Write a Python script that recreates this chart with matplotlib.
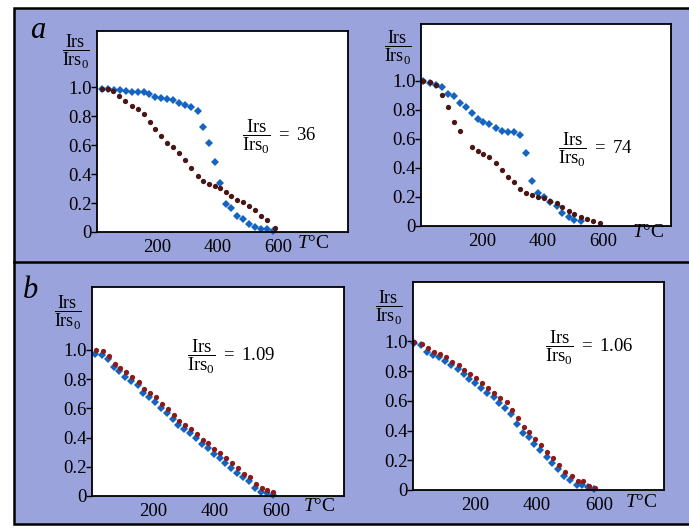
import matplotlib
matplotlib.use("Agg")
import matplotlib.pyplot as plt
from matplotlib.patches import Rectangle
from matplotlib.lines import Line2D

plt.rcParams['font.family'] = ['Liberation Serif', 'DejaVu Serif']
plt.rcParams['mathtext.fontset'] = 'custom'
plt.rcParams['mathtext.rm'] = 'Liberation Serif'
plt.rcParams['mathtext.it'] = 'Liberation Serif:italic'

# panel a, left  (Irs/Irs0 = 36)
t_a1_blue = [17, 35, 55, 75, 96, 116, 136, 154, 172, 193, 212, 231, 251, 272, 292,
             312, 334, 349, 371, 389, 408, 425, 444, 463, 482, 502, 522, 542, 562, 582]
y_a1_blue = [0.99, 0.988, 0.984, 0.979, 0.972, 0.970, 0.968, 0.965, 0.956, 0.933, 0.926,
             0.919, 0.915, 0.892, 0.876, 0.864, 0.839, 0.724, 0.615, 0.484, 0.339, 0.194,
             0.166, 0.113, 0.092, 0.058, 0.035, 0.021, 0.021, 0.005]
t_a1_red = [17, 35, 53, 72, 94, 116, 136, 154, 174, 193, 213, 231, 251, 272, 292,
            312, 334, 349, 371, 389, 408, 425, 444, 463, 482, 502, 522, 542, 562, 587]
y_a1_red = [0.99, 0.988, 0.972, 0.942, 0.908, 0.873, 0.850, 0.818, 0.758, 0.712, 0.661,
            0.615, 0.585, 0.546, 0.495, 0.442, 0.389, 0.350, 0.334, 0.316, 0.304, 0.274,
            0.247, 0.224, 0.205, 0.182, 0.155, 0.113, 0.085, 0.028]

# panel a, right  (= 74)
t_a2_blue = [8, 30, 49, 68, 90, 109, 128, 147, 167, 186, 205, 225, 246, 265, 285, 306,
             326, 345, 366, 384, 405, 424, 446, 465, 485, 504, 526]
y_a2_blue = [1.0, 0.985, 0.972, 0.956, 0.91, 0.892, 0.846, 0.818, 0.777, 0.736, 0.715,
             0.70, 0.674, 0.657, 0.646, 0.644, 0.623, 0.50, 0.31, 0.23, 0.20, 0.168, 0.14,
             0.087, 0.064, 0.042, 0.035]
t_a2_red = [8, 30, 49, 68, 90, 109, 128, 167, 186, 205, 225, 247, 265, 285, 306, 326,
            345, 366, 384, 405, 424, 446, 465, 485, 504, 526, 545, 567, 589]
y_a2_red = [0.995, 0.989, 0.972, 0.903, 0.818, 0.715, 0.657, 0.547, 0.517, 0.497, 0.474,
            0.432, 0.386, 0.340, 0.306, 0.253, 0.230, 0.214, 0.198, 0.191, 0.175, 0.156,
            0.133, 0.106, 0.080, 0.060, 0.046, 0.037, 0.023]

# panel b, left  (= 1.09)
t_b1_red = [13, 37, 56, 75, 92, 111, 130, 152, 170, 190, 208, 228, 246, 266, 284, 304,
            322, 342, 362, 379, 398, 417, 436, 454, 474, 493, 514, 533, 552, 571, 590]
y_b1_red = [1.0, 0.989, 0.959, 0.904, 0.874, 0.847, 0.817, 0.783, 0.731, 0.703, 0.676,
            0.630, 0.596, 0.555, 0.514, 0.486, 0.459, 0.425, 0.384, 0.361, 0.320, 0.292,
            0.258, 0.224, 0.189, 0.151, 0.128, 0.080, 0.057, 0.041, 0.030]
t_b1_blue = [10, 31, 53, 71, 89, 107, 127, 149, 167, 186, 206, 224, 243, 262, 281, 300,
             319, 339, 359, 377, 396, 415, 434, 452, 472, 491, 512, 531, 550, 569, 588]
y_b1_blue = [0.973, 0.966, 0.936, 0.881, 0.852, 0.817, 0.790, 0.760, 0.708, 0.680, 0.646,
             0.600, 0.566, 0.527, 0.486, 0.457, 0.429, 0.395, 0.356, 0.326, 0.288, 0.258,
             0.228, 0.189, 0.155, 0.128, 0.103, 0.053, 0.030, 0.018, 0.007]

# panel b, right  (= 1.06)
t_b2_red = [4, 29, 47, 69, 88, 107, 126, 147, 166, 185, 203, 223, 241, 262, 282, 302,
            318, 338, 357, 375, 395, 413, 434, 453, 472, 491, 512, 531, 550, 569, 588]
y_b2_red = [0.998, 0.984, 0.953, 0.931, 0.917, 0.895, 0.864, 0.841, 0.805, 0.779, 0.752,
            0.718, 0.689, 0.655, 0.617, 0.593, 0.539, 0.483, 0.425, 0.391, 0.342, 0.302,
            0.253, 0.215, 0.170, 0.119, 0.094, 0.063, 0.058, 0.029, 0.013]
t_b2_blue = [2, 27, 44, 66, 85, 103, 123, 144, 163, 182, 201, 220, 239, 260, 279, 298,
             316, 336, 354, 373, 391, 410, 431, 450, 469, 488, 508, 528, 546, 566, 584]
y_b2_blue = [0.991, 0.975, 0.931, 0.908, 0.895, 0.868, 0.839, 0.812, 0.779, 0.745, 0.723,
             0.689, 0.655, 0.626, 0.588, 0.555, 0.510, 0.447, 0.387, 0.358, 0.309, 0.268,
             0.219, 0.179, 0.141, 0.096, 0.067, 0.036, 0.031, 0.022, 0.007]

ratios = ['36', '74', '1.09', '1.06']
y_ticks = [0, 0.2, 0.4, 0.6, 0.8, 1.0]
y_tick_labels = ['0', '0.2', '0.4', '0.6', '0.8', '1.0']
x_ticks = [200, 400, 600]

W, H = 689, 528
fig = plt.figure(figsize=(W / 100, H / 100), dpi=100)
fig.patch.set_facecolor('white')

bg = '#9aa3dc'
fig.patches.append(Rectangle((14 / W, 1 - 524 / H), 1.0, (524 - 8) / H,
                             transform=fig.transFigure, facecolor=bg,
                             edgecolor='black', linewidth=1.8, zorder=-2))
fig.lines.append(Line2D([14 / W, 1.0], [1 - 262.5 / H] * 2, transform=fig.transFigure,
                        color='black', linewidth=1.8, zorder=-1))

# box in pixels: left, right, top, bottom ; xlim max ; ylim max
boxes = [(97, 348, 31, 232, 830, 1.39),
         (421, 671, 24, 226, 822, 1.39),
         (92, 344, 287, 496, 820, 1.43),
         (413, 664, 282, 490, 810, 1.40)]
series = [(t_a1_blue, y_a1_blue, t_a1_red, y_a1_red),
          (t_a2_blue, y_a2_blue, t_a2_red, y_a2_red),
          (t_b1_blue, y_b1_blue, t_b1_red, y_b1_red),
          (t_b2_blue, y_b2_blue, t_b2_red, y_b2_red)]
ylab_pos = [(-0.084, 0.896), (-0.092, 0.881), (-0.095, 0.876), (-0.096, 0.875)]
note_pos = [(0.578, 0.473), (0.548, 0.376), (0.377, 0.665), (0.526, 0.683)]
tc_pos = [(0.797, -0.055), (0.844, -0.03), (0.837, -0.048), (0.845, -0.058)]
red_cols = ['#4a1512', '#4a1512', '#8b1a1a', '#8b1a1a']

frac = r'$\dfrac{\mathrm{Irs}}{\mathrm{Irs}_0}$'

for i in range(4):
    l, r, t, b, xmax, ymax = boxes[i]
    ax = fig.add_axes([l / W, 1 - b / H, (r - l) / W, (b - t) / H])
    ax.set_facecolor('white')
    tb, yb, tr, yr = series[i]
    ax.plot(tb, yb, 'D', color='#1565c0', markersize=3.6, markeredgewidth=0, clip_on=False)
    ax.plot(tr, yr, 'o', color=red_cols[i], markersize=3.8, markeredgewidth=0, clip_on=False)
    ax.set_xlim(0, xmax)
    ax.set_ylim(0, ymax)
    ax.set_xticks(x_ticks)
    ax.set_yticks(y_ticks)
    ax.set_yticklabels(y_tick_labels)
    ax.tick_params(axis='y', direction='out', length=4, width=1, pad=0, labelsize=13.5)
    ax.tick_params(axis='x', direction='out', length=0, pad=5, labelsize=13.5)
    for s in ax.spines.values():
        s.set_linewidth(1.3)
    ax.text(ylab_pos[i][0], ylab_pos[i][1], frac, transform=ax.transAxes,
            ha='center', va='center', fontsize=13)
    ax.text(note_pos[i][0], note_pos[i][1],
            r'$\dfrac{\mathrm{Irs}}{\mathrm{Irs}_0}\ =\ ' + ratios[i] + '$',
            transform=ax.transAxes, ha='left', va='center', fontsize=13.5)
    ax.text(tc_pos[i][0], tc_pos[i][1], r'$T$°C', transform=ax.transAxes,
            ha='left', va='center', fontsize=14)

fig.text(38 / W, 1 - 30 / H, 'a', fontsize=22, style='italic', ha='center', va='center')
fig.text(30 / W, 1 - 290 / H, 'b', fontsize=22, style='italic', ha='center', va='center')

fig.savefig('out.png', dpi=100, facecolor=fig.get_facecolor())
